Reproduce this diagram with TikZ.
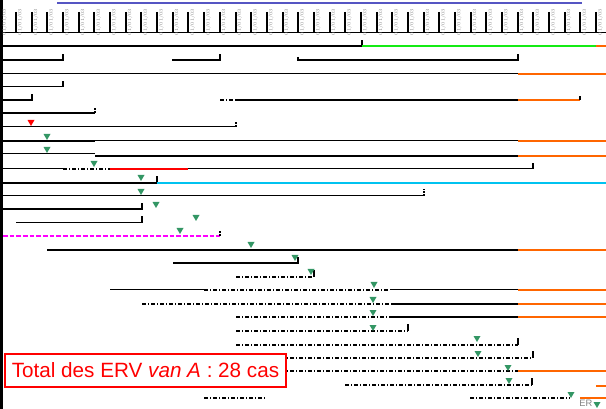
\documentclass[tikz,border=0pt]{standalone}
\usepackage{fontspec}
\setsansfont{Liberation Sans}
\usepackage{tikz}
\usetikzlibrary{positioning}
\definecolor{evgreen}{RGB}{51,150,100}
\definecolor{orangeline}{RGB}{255,102,0}
\definecolor{greenline}{RGB}{20,235,20}
\definecolor{cyanline}{RGB}{0,195,240}
\definecolor{topblue}{RGB}{85,85,195}
\definecolor{lblgray}{RGB}{130,130,130}
\definecolor{pinkline}{RGB}{255,0,255}

\begin{document}
\begin{tikzpicture}[x=0.75pt,y=-0.75pt,
  thk/.style={line width=1.5pt},
  thn/.style={line width=0.75pt},
  dd/.style={line width=0.85pt,dash pattern=on 3pt off 1.5pt on 0.75pt off 1.5pt},
  orng/.style={line width=1.5pt,draw=orangeline},
  endtk/.style={line width=1.5pt},
  dottk/.style={line width=1.5pt,dash pattern=on 1.5pt off 0.75pt},
  ticklbl/.style={rotate=90,text=lblgray,font=\fontsize{3.6}{3.6}\selectfont,inner sep=0pt},
  totalbox/.style={draw=red,line width=1.1pt,fill=white,text=red,font=\sffamily\fontsize{15.5}{16}\selectfont,
    minimum width=210.5pt,minimum height=24.5pt,inner sep=0pt}
]
\useasboundingbox (0,0) rectangle (606,409);

% axes
\draw[line width=1pt,topblue] (57,3) -- (582,3);
\draw[line width=2.25pt] (1.5,0) -- (1.5,409);
\draw[thn] (0,33) -- (606,33);
\foreach \k in {0,...,38} {
  \draw[endtk] (0.3+15.68*\k,12) -- (0.3+15.68*\k,33);
  \node[ticklbl] (lbl\k) at (4.5+15.68*\k,22) {01/01/03};
}

% patients
\draw[thk] (3,46) -- (362,46) -- (362,40);
\draw[line width=1.5pt,greenline] (362,46) -- (596,46);
\draw[orng] (596,46) -- (606,46);

\draw[thk] (3,60) -- (63,60) -- (63,54);
\draw[thk] (172,60) -- (220,60) -- (220,54);
\draw[thk] (298,57) -- (298,60) -- (518,60) -- (518,54);

\draw[thn] (3,74) -- (518,74);
\draw[orng] (518,74) -- (606,74);

\draw[thn] (3,87) -- (63,87);
\draw[endtk] (63,87) -- (63,81);

\draw[thk] (3,100) -- (32,100) -- (32,94);
\draw[dd] (220,100) -- (236,100);
\draw[thk] (236,100) -- (518,100);
\draw[orng] (518,100) -- (580,100);
\draw[endtk] (580,100) -- (580,96);

\draw[thk] (3,113) -- (95,113);
\draw[dottk] (95,113) -- (95,107);

\draw[thn] (3,127) -- (236,127);
\draw[dottk] (236,127) -- (236,122);

\draw[thk] (3,141) -- (95,141);
\draw[thn] (95,141) -- (518,141);
\draw[orng] (518,141) -- (606,141);

\draw[thn] (3,154) -- (95,154);
\draw[thk] (95,156) -- (518,156);
\draw[orng] (518,156) -- (606,156);

\draw[thn] (3,169) -- (63,169);
\draw[dd] (63,169) -- (110,169);
\draw[line width=1.5pt,red] (110,169) -- (188,169);
\draw[thn] (188,169) -- (533,169);
\draw[endtk] (533,169) -- (533,163);

\draw[thk] (3,183) -- (157,183) -- (157,176);
\draw[line width=1.5pt,cyanline] (157,183) -- (606,183);

\draw[thn] (3,196) -- (424,196);
\draw[dottk] (424,196) -- (424,189);

\draw[thk] (3,209) -- (142,209) -- (142,203);

\draw[thn] (16,223) -- (142,223);
\draw[endtk] (142,223) -- (142,216);

\draw[line width=1pt,pinkline,dash pattern=on 3.5pt off 1.5pt] (3,236) -- (220,236);
\draw[dottk] (220,236) -- (220,230);

\draw[thk] (47,250) -- (518,250);
\draw[orng] (518,250) -- (606,250);

\draw[thk] (173,263) -- (298,263) -- (298,257);

\draw[dd] (236,277) -- (314,277);
\draw[endtk] (314,277) -- (314,270);

\draw[thn] (110,290) -- (204,290);
\draw[dd] (204,290) -- (390,290);
\draw[thn] (390,290) -- (518,290);
\draw[orng] (518,290) -- (606,290);

\draw[dd] (142,304) -- (392,304);
\draw[thk] (392,304) -- (518,304);
\draw[orng] (518,304) -- (606,304);

\draw[dd] (236,317) -- (392,317);
\draw[thk] (392,317) -- (518,317);
\draw[orng] (518,317) -- (606,317);

\draw[dd] (236,331) -- (408,331);
\draw[endtk] (408,331) -- (408,324);

\draw[dd] (236,345) -- (518,345);
\draw[endtk] (518,345) -- (518,338);

\draw[dd] (236,358) -- (533,358);
\draw[endtk] (533,358) -- (533,351);

\draw[dd] (236,371) -- (518,371);
\draw[orng] (518,371) -- (606,371);

\draw[dd] (142,385) -- (267,385);
\draw[dd] (345,385) -- (532,385);
\draw[endtk] (532,385) -- (532,378);
\draw[orng] (596,386) -- (606,386);

\draw[dd] (204,398) -- (267,398);
\draw[dd] (470,398) -- (570,398);
\draw[orng] (580,398) -- (606,398);

% events
\fill[red] (27.5,120) -- (34.5,120) -- (31,126) -- cycle;
\foreach \x/\y in {47/137, 47/150, 94/164, 141/178, 141/192, 156/205, 196/218, 180/231,
  251/245, 295/258, 311/272, 374/285, 373/300, 373/313, 373/328, 477/339, 478/354,
  508/368, 509/381, 571/395, 597/405}
  \fill[evgreen] (\x-3.5,\y-3) -- (\x+3.5,\y-3) -- (\x,\y+3) -- cycle;

\node[text=lblgray,font=\sffamily\fontsize{7}{7}\selectfont,anchor=west,inner sep=0pt] (er) at (579,403.5) {ER};

% total
\node[totalbox] (total) at (145.5,370.5) {Total des ERV \textit{van A} : 28 cas};
\end{tikzpicture}
\end{document}
